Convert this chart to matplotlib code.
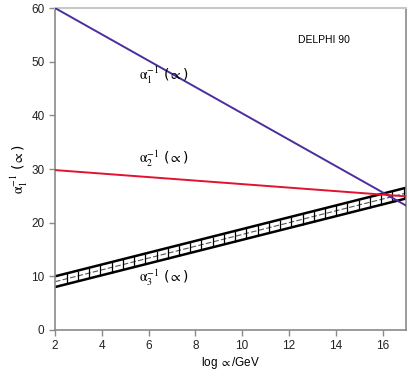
import numpy as np
import matplotlib.pyplot as plt

plt.rcParams['mathtext.fontset'] = 'stix'

# inverse couplings vs log(mu/GeV)
log_mu = [2, 17]
alpha1_inv = [60.0, 23.2]
alpha2_inv = [29.8, 24.9]
alpha3_hi = [10.0, 26.5]
alpha3_lo = [8.0, 24.5]

fig = plt.figure(figsize=(4.09, 3.77), dpi=100)
ax = fig.add_axes([0.1345, 0.1247, 0.858, 0.854])

ax.plot(log_mu, alpha1_inv, color='#4b2d9e', lw=1.4, zorder=3)
ax.plot(log_mu, alpha2_inv, color='#e3122f', lw=1.4, zorder=3)

# alpha3 band with cross bars
ax.plot(log_mu, alpha3_hi, color='black', lw=1.8, zorder=2)
ax.plot(log_mu, alpha3_lo, color='black', lw=1.8, zorder=2)
mid = [(a + b) / 2 for a, b in zip(alpha3_hi, alpha3_lo)]
ax.plot(log_mu, mid, color='#555555', lw=0.8, ls=(0, (5, 2)), zorder=2)
xs = np.arange(2.5, 17, 0.48)
ax.vlines(xs, np.interp(xs, log_mu, alpha3_lo), np.interp(xs, log_mu, alpha3_hi),
          color='black', lw=0.9, zorder=2)

ax.set_xlim(2, 17)
ax.set_ylim(0, 60)
ax.set_xticks([2, 4, 6, 8, 10, 12, 14, 16])
ax.set_yticks([0, 10, 20, 30, 40, 50, 60])

for s in ['left', 'bottom', 'right']:
    ax.spines[s].set_color('#8a8a8a')
    ax.spines[s].set_linewidth(1.2)
ax.spines['top'].set_color('#c8c8c8')
ax.spines['top'].set_linewidth(1.5)
ax.tick_params(colors='#8a8a8a', labelcolor='#222222', labelsize=8.5, length=4, width=1)
for lab in ax.get_xticklabels() + ax.get_yticklabels():
    lab.set_family('Liberation Sans')

ax.text(5.6, 46.5, r'$\mathrm{\alpha}_1^{-1}$ ($\propto$)', fontsize=10)
ax.text(5.6, 31.0, r'$\mathrm{\alpha}_2^{-1}$ ($\propto$)', fontsize=10)
ax.text(5.6, 8.8, r'$\mathrm{\alpha}_3^{-1}$ ($\propto$)', fontsize=10)
ax.text(13.5, 54, 'DELPHI 90', fontsize=7.5, ha='center', va='center', family='Liberation Sans')

ax.set_xlabel(r'log $\propto$/GeV', fontsize=8.5, family='Liberation Sans', labelpad=2)
ax.set_ylabel(r'$\mathrm{\alpha}_1^{-1}$ ($\propto$)', fontsize=10, labelpad=1)

fig.savefig('out.png', dpi=100)
